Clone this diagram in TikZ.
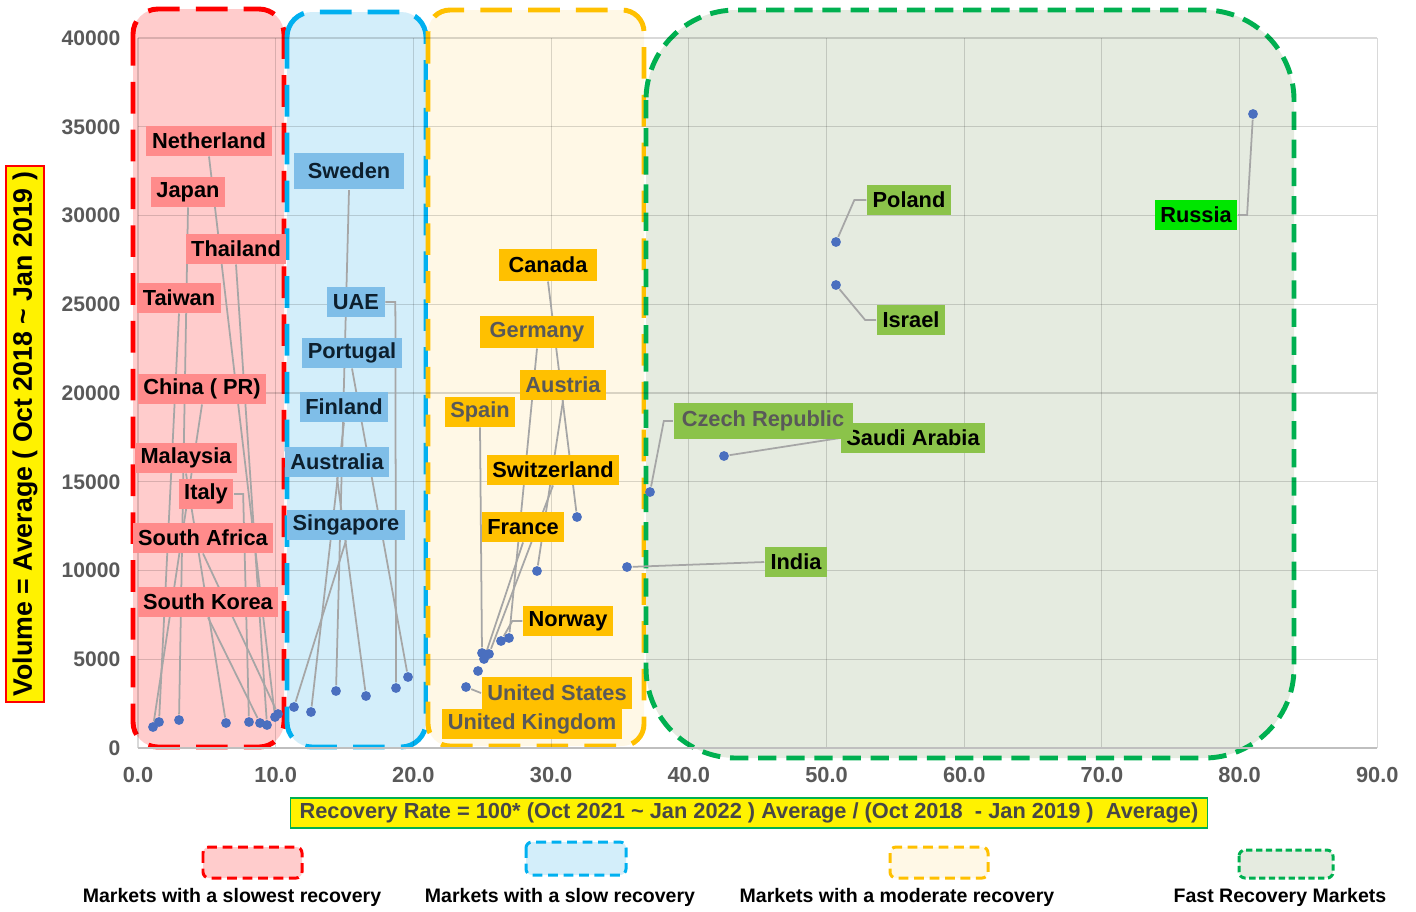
\documentclass[tikz,border=0pt]{standalone}
\usepackage{fontspec}
\setmainfont{Liberation Sans}
\pgfdeclarelayer{bg}
\pgfdeclarelayer{lines}
\pgfsetlayers{bg,lines,main}

\definecolor{redfill}{HTML}{FFCCCC}
\definecolor{bluefill}{HTML}{D3EEFA}
\definecolor{yelfill}{HTML}{FFF8E6}
\definecolor{grnfill}{HTML}{E5EBE0}
\definecolor{redline}{HTML}{FF0000}
\definecolor{blueline}{HTML}{00B0F0}
\definecolor{yelline}{HTML}{FFC000}
\definecolor{grnline}{HTML}{00B050}
\definecolor{redlab}{HTML}{FF8B8B}
\definecolor{bluelab}{HTML}{7FBEE8}
\definecolor{grnlab}{HTML}{8BC34A}
\definecolor{rulab}{HTML}{00E600}
\definecolor{dotblue}{HTML}{4A6FBF}
\definecolor{leadgray}{HTML}{A6A6A6}
\definecolor{ticktext}{HTML}{595959}
\definecolor{bluetxt}{HTML}{0D1F2D}

\newcommand\lblfont{\fontsize{6.2}{7}\selectfont\bfseries}
\newcommand\tickfont{\fontsize{6}{7}\selectfont\bfseries}
\newcommand\legfont{\fontsize{5.55}{6.5}\selectfont\bfseries}

\begin{document}
\begin{tikzpicture}[x=0.01cm, y=-0.01cm,
    zone/.style={line width=1.4pt, rounded corners=0.25cm, dash pattern=on 9pt off 4.6pt},
    legbox/.style={line width=0.85pt, rounded corners=0.06cm, dash pattern=on 2.8pt off 1.6pt},
    lbl/.style={inner xsep=1.6pt, inner ysep=0pt, minimum height=8.4pt, font=\lblfont},
    redlbl/.style={lbl, fill=redlab, text=black},
    bluelbl/.style={lbl, fill=bluelab, text=bluetxt},
    yellbl/.style={lbl, fill=yelline, text=black},
    grnlbl/.style={lbl, fill=grnlab, text=black},
    datapt/.style={circle, fill=dotblue, inner sep=0pt, minimum size=2.8pt},
    leader/.style={draw=leadgray, line width=0.5pt},
    ytick/.style={anchor=east, inner sep=0pt, text=ticktext, font=\tickfont},
    xtick/.style={inner sep=0pt, text=ticktext, font=\fontsize{6.2}{7}\selectfont\bfseries},
    legtxt/.style={inner sep=0pt, font=\legfont}]

\useasboundingbox (0,0) rectangle (1416,911);

\begin{pgfonlayer}{bg}
    \draw[zone, redline, fill=redfill] (133,9) rectangle (284,747);
    \draw[zone, blueline, fill=bluefill] (287,12) rectangle (426,747);
    \draw[zone, yelline, fill=yelfill, rounded corners=0.22cm] (428,10) rectangle (644,746);
    \draw[zone, grnline, fill=grnfill, rounded corners=0.9cm, dash pattern=on 5.2pt off 2.8pt] (646,10) rectangle (1294,758);
    \foreach \k in {0,...,9}
        \draw[black, opacity=0.15, line width=0.3pt] ({138+137.7*\k},38) -- ({138+137.7*\k},748);
    \foreach \k in {1,...,8}
        \draw[black, opacity=0.15, line width=0.3pt] (138,{748-88.75*\k}) -- (1377,{748-88.75*\k});
    \draw[black!25, line width=0.5pt] (138,748) -- (1377,748);
\end{pgfonlayer}

\foreach \v [count=\k from 0] in {0,5000,10000,15000,20000,25000,30000,35000,40000}
    \node[ytick] (yt\k) at (121,{748-88.75*\k}) {\v};
\foreach \v [count=\k from 0] in {0.0,10.0,20.0,30.0,40.0,50.0,60.0,70.0,80.0,90.0}
    \node[xtick] (xt\k) at ({138+137.7*\k},775) {\v};

\node[draw=red, fill=yellow, rotate=90, minimum width=152.5pt, minimum height=10.8pt, inner sep=0pt,
    font=\fontsize{7.6}{9}\selectfont\bfseries] (ytitle) at (25,434) {Volume = Average ( Oct 2018 \textasciitilde{} Jan 2019 )};
\node[draw=grnline, fill=yellow, minimum width=260.6pt, minimum height=8.5pt, inner sep=0pt, text=black!72,
    font=\fontsize{6.2}{7}\selectfont\bfseries] (xtitle) at (749,813) {Recovery Rate = 100* (Oct 2021 \textasciitilde{} Jan 2022 ) Average / (Oct 2018 \ - Jan 2019 ) \ Average)};

% data points
\begin{scope}[every node/.style={datapt}]
    \node (pcn) at (153,727) {};
    \node (ptw) at (159,722) {};
    \node (pjp) at (179,720) {};
    \node (pmy) at (226,723) {};
    \node (pit) at (249,722) {};
    \node (pkr) at (260,723) {};
    \node (pth) at (267,725) {};
    \node (pnl) at (275,717) {};
    \node (pza) at (278,714) {};
    \node (psg) at (294,707) {};
    \node (pfi) at (311,712) {};
    \node (pse) at (336,691) {};
    \node (pau) at (366,696) {};
    \node (pae) at (396,688) {};
    \node (ppor) at (408,677) {};
    \node (pus) at (466,687) {};
    \node (puk) at (478,671) {};
    \node (pspa) at (482,653) {};
    \node (pfr) at (484,659) {};
    \node (pswi) at (489,654) {};
    \node (pnor) at (501,641) {};
    \node (pde) at (509,638) {};
    \node (paut) at (537,571) {};
    \node (pca) at (577,517) {};
    \node (pind) at (627,567) {};
    \node (pcz) at (650,492) {};
    \node (psa) at (724,456) {};
    \node (ppl) at (836,242) {};
    \node (pil) at (836,285) {};
    \node (pru) at (1253,114) {};
\end{scope}

% labels
\node[redlbl] (nl) at (209,141) {Netherland};
\node[redlbl] (jp) at (188,192) {Japan};
\node[redlbl] (th) at (236,249) {Thailand};
\node[redlbl] (tw) at (179,298) {Taiwan};
\node[redlbl] (cn) at (202,389) {China ( PR)};
\node[redlbl] (my) at (186,458) {Malaysia};
\node[redlbl] (it) at (206,494) {Italy};
\node[redlbl] (za) at (203,538) {South Africa};
\node[redlbl] (kr) at (208,602) {South Korea};

\node[bluelbl, minimum width=31.3pt, minimum height=10.5pt] (se) at (349,171) {Sweden};
\node[bluelbl] (ae) at (356,302) {UAE};
\node[bluelbl] (por) at (352,353) {Portugal};
\node[bluelbl] (fi) at (344,407) {Finland};
\node[bluelbl] (au) at (337,462) {Australia};
\node[bluelbl] (sg) at (346,525) {Singapore};

\node[yellbl, minimum width=27.9pt, minimum height=9pt] (ca) at (548,265) {Canada};
\node[yellbl, minimum width=32.4pt, minimum height=9pt, text=ticktext] (de) at (537,332) {Germany};
\node[yellbl, text=ticktext] (aut) at (563,385) {Austria};
\node[yellbl, text=ticktext] (spa) at (480,412) {Spain};
\node[yellbl] (swi) at (553,470) {Switzerland};
\node[yellbl] (fr) at (523,527) {France};
\node[yellbl] (nor) at (568,621) {Norway};
\node[yellbl, text=ticktext, minimum height=9pt] (us) at (557,693) {United States};
\node[yellbl, text=ticktext] (uk) at (532,724) {United Kingdom};

\node[grnlbl] (pl) at (909,200) {Poland};
\node[grnlbl] (il) at (911,320) {Israel};
\node[grnlbl, fill=rulab] (ru) at (1196,215) {Russia};
\node[grnlbl] (sa) at (913,438) {Saudi Arabia};
\node[grnlbl, minimum width=50.9pt, minimum height=10pt, text=ticktext] (cz) at (763,421) {Czech Republic};
\node[grnlbl] (ind) at (796,562) {India};

% leader lines
\begin{pgfonlayer}{lines}
\begin{scope}[every path/.style={leader}]
    \draw (nl.south) -- (pnl);
    \draw (jp.south) -- (pjp);
    \draw (th.south) -- (pth);
    \draw (tw.south) -- (ptw);
    \draw (cn.south) -- (pcn);
    \draw (my.south) -- (pmy);
    \draw (it.east) -- ++(9,0) -- (pit);
    \draw (za.south) -- (pza);
    \draw (kr.south) -- (pkr);
    \draw (se.south) -- (pse);
    \draw (ae.east) -- ++(10,0) -- (pae);
    \draw (por.south) -- (ppor);
    \draw (fi.south) -- (pfi);
    \draw (au.south) -- (pau);
    \draw (sg.south) -- (psg);
    \draw (ca.south) -- (pca);
    \draw (de.south) -- (pde);
    \draw (aut.south) -- (paut);
    \draw (spa.south) -- (pspa);
    \draw (swi.south) -- (pswi);
    \draw (fr.south) -- (pfr);
    \draw (nor.west) -- ++(-10,0) -- (pnor);
    \draw (us.west) -- (pus);
    \draw (pl.west) -- ++(-12,0) -- (ppl);
    \draw (il.west) -- ++(-11,0) -- (pil);
    \draw (ru.east) -- ++(9,0) -- (pru);
    \draw (cz.west) -- ++(-9,0) -- (pcz);
    \draw (sa.west) -- (psa);
    \draw (ind.west) -- (pind);
\end{scope}
\end{pgfonlayer}

% legend
\draw[legbox, redline, fill=redfill] (203,847) rectangle (302,878);
\draw[legbox, blueline, fill=bluefill] (526,842) rectangle (626,875);
\draw[legbox, yelline, fill=yelfill] (890,847) rectangle (988,878);
\draw[legbox, grnline, fill=grnfill, dash pattern=on 1.8pt off 1pt] (1239,850) rectangle (1333,878);
\node[legtxt] (lt1) at (232,897) {Markets with a slowest recovery};
\node[legtxt] (lt2) at (560,897) {Markets with a slow recovery};
\node[legtxt] (lt3) at (897,897) {Markets with a moderate recovery};
\node[legtxt] (lt4) at (1280,897) {Fast Recovery Markets};

\end{tikzpicture}
\end{document}
